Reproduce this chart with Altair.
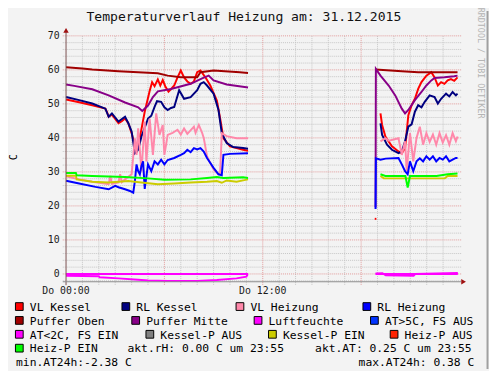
import altair as alt
import pandas as pd

# ---------------- data (hours since 00:00 on 31.12.2015, values in C) ----------------
TITLE = "Temperaturverlauf Heizung am: 31.12.2015"
SERIES = ["VL Kessel", "RL Kessel", "VL Heizung", "RL Heizung",
          "Puffer Oben", "Puffer Mitte", "Luftfeuchte", "AT>5C, FS AUS",
          "AT<2C, FS EIN", "Kessel-P AUS", "Kessel-P EIN", "Heiz-P AUS",
          "Heiz-P EIN"]
COLORS = ["#ff0000", "#000080", "#ff88aa", "#0000ff",
          "#a00000", "#880088", "#ff00ff", "#0033ff",
          "#ff00ff", "#808080", "#cccc00", "#ff2200",
          "#00ff00"]

VL_KESSEL_0 = [(18.83, 16.2), (18.93, 16.2)]
VL_KESSEL_1 = [(0, 51.3), (0.8, 50.5), (1.6, 49.6), (2.4, 48.6), (2.5, 47.6), (2.6, 46.2), (2.8, 46.8),
               (3.2, 44.3), (3.4, 44.9), (3.6, 45.7), (3.8, 44.3), (4.0, 41.4), (4.3, 35.7), (4.5, 40.0),
               (4.8, 47.7), (5.1, 53.8), (5.25, 56.4), (5.4, 55.2), (5.6, 57.2), (5.75, 55.4), (5.9, 57.0),
               (6.05, 55.2), (6.25, 53.6), (6.45, 54.6), (6.6, 55.4), (6.8, 57.8), (7.0, 59.8), (7.2, 57.8),
               (7.4, 56.6), (7.6, 55.9), (7.8, 56.6), (8.0, 59.3), (8.2, 59.8), (8.5, 57.8), (8.8, 55.4),
               (9.2, 51.0), (9.4, 45.7), (9.6, 39.9), (10.0, 37.5), (10.4, 37.0), (10.8, 36.5), (11.1, 36.2)]
VL_KESSEL_2 = [(19.18, 47.2), (19.28, 43.8), (19.48, 40.4), (19.88, 37.5), (20.28, 36.0), (20.48, 35.5),
               (20.68, 37.0), (20.88, 46.7), (21.08, 49.6), (21.28, 51.5), (21.48, 54.4), (21.68, 56.4),
               (21.98, 58.3), (22.28, 59.3), (22.48, 57.8), (22.68, 55.4), (22.88, 56.4), (23.08, 55.9),
               (23.28, 56.9), (23.48, 57.3), (23.68, 56.8), (23.88, 57.8)]

RL_KESSEL_1 = [(0, 52.0), (0.8, 51.1), (1.6, 50.1), (2.4, 48.6), (2.6, 46.2), (2.8, 47.2), (3.2, 44.8),
               (3.6, 46.2), (3.8, 44.3), (4.0, 41.9), (4.2, 35.5), (4.4, 36.5), (4.6, 40.4), (4.9, 44.3),
               (5.0, 45.7), (5.2, 46.5), (5.4, 49.1), (5.55, 50.8), (5.8, 50.6), (6.0, 49.0), (6.2, 48.2),
               (6.4, 48.8), (6.6, 49.1), (6.9, 54.0), (7.2, 51.5), (7.6, 52.0), (8.0, 54.0), (8.2, 55.9),
               (8.4, 56.4), (8.6, 55.4), (9.0, 53.0), (9.3, 48.2), (9.5, 41.4), (9.8, 38.5), (10.2, 37.3),
               (10.8, 37.0), (11.1, 36.8)]
RL_KESSEL_2 = [(19.18, 44.3), (19.28, 40.9), (19.58, 38.0), (19.88, 36.5), (20.28, 35.5), (20.48, 36.0),
               (20.68, 39.0), (20.88, 43.3), (21.08, 44.0), (21.28, 47.7), (21.48, 49.6), (21.68, 49.0),
               (21.88, 50.6), (22.18, 52.5), (22.48, 52.0), (22.68, 50.1), (22.88, 51.5), (23.18, 53.0),
               (23.38, 52.2), (23.58, 53.5), (23.78, 52.5), (23.88, 53.0)]

VL_HEIZUNG_1 = [(0, 28.7), (0.8, 27.8), (1.6, 27.1), (2.6, 26.4), (2.7, 28.8), (2.8, 26.5), (3.2, 26.9),
                (3.3, 29.3), (3.4, 27.0), (3.6, 27.8), (4.0, 29.3), (4.2, 39.9), (4.3, 35.0), (4.4, 42.8),
                (4.6, 30.2), (4.8, 44.8), (4.9, 33.1), (5.1, 45.7), (5.3, 35.0), (5.5, 47.2), (5.7, 40.9),
                (5.9, 43.8), (6.0, 35.0), (6.2, 40.9), (6.5, 41.5), (6.8, 42.4), (7.0, 41.0), (7.2, 42.8),
                (7.4, 41.2), (7.8, 43.3), (7.9, 41.5), (8.1, 43.8), (8.3, 41.5), (8.4, 40.0), (8.6, 34.6),
                (8.8, 32.6), (9.0, 30.7), (9.3, 29.3), (9.4, 29.7), (9.5, 41.4), (9.8, 40.5), (10.4, 39.9),
                (11.1, 39.9)]
VL_HEIZUNG_2 = [(19.18, 39.0), (19.48, 39.9), (19.7, 39.2), (20.28, 39.9), (20.48, 35.0), (20.68, 39.0),
                (20.78, 30.2), (20.98, 41.4), (21.18, 33.1), (21.38, 40.0), (21.58, 43.3), (21.78, 38.0),
                (21.98, 41.4), (22.18, 38.8), (22.38, 41.0), (22.58, 38.0), (22.78, 41.4), (22.98, 38.6),
                (23.18, 40.8), (23.38, 38.0), (23.58, 41.4), (23.78, 39.0), (23.88, 40.4)]

RL_HEIZUNG_1 = [(0, 27.4), (0.8, 26.6), (1.8, 25.6), (2.6, 24.9), (3.0, 25.9), (3.2, 25.5), (3.6, 24.9),
                (3.9, 24.4), (4.1, 23.9), (4.2, 27.3), (4.3, 32.2), (4.4, 30.2), (4.5, 29.3), (4.6, 31.7),
                (4.7, 33.1), (4.8, 25.0), (5.0, 32.2), (5.2, 30.2), (5.4, 33.1), (5.6, 32.2), (5.8, 33.6),
                (6.0, 32.2), (6.2, 33.5), (6.6, 34.1), (7.0, 35.0), (7.2, 35.5), (7.4, 36.5), (7.6, 35.8),
                (7.8, 37.0), (8.0, 36.6), (8.2, 37.0), (8.4, 36.0), (8.6, 34.1), (9.0, 31.2), (9.3, 29.3),
                (9.5, 29.0), (9.6, 35.0), (10.0, 35.3), (11.1, 35.5)]
RL_HEIZUNG_2 = [(18.88, 19.1), (18.9, 34.0), (19.18, 33.6), (19.5, 33.9), (20.28, 34.1), (20.48, 32.2),
                (20.68, 30.2), (20.84, 29.3), (20.98, 33.1), (21.18, 30.2), (21.38, 33.1), (21.58, 34.0),
                (21.78, 33.1), (21.98, 34.6), (22.18, 33.6), (22.38, 34.6), (22.58, 33.1), (22.78, 34.1),
                (22.98, 33.6), (23.18, 34.6), (23.38, 33.1), (23.58, 33.6), (23.78, 34.1), (23.88, 34.1)]

PUFFER_OBEN_1 = [(0, 60.8), (1.0, 60.4), (1.6, 60.1), (3.2, 59.6), (4.4, 59.3), (5.6, 59.0), (6.2, 58.3),
                 (7.0, 57.8), (8.0, 57.8), (8.2, 59.3), (9.0, 59.8), (10.6, 59.3), (11.1, 59.1)]
PUFFER_OBEN_2 = [(18.88, 60.1), (20.48, 59.6), (21.48, 59.3), (23.88, 59.3)]

PUFFER_MITTE_1 = [(0, 55.7), (0.5, 55.3), (1.6, 54.3), (2.6, 52.5), (3.6, 50.4), (4.4, 49.0), (4.65, 47.9),
                  (5.0, 49.5), (5.3, 52.0), (5.6, 53.7), (6.4, 54.4), (7.6, 55.9), (8.3, 57.5), (8.7, 58.3),
                  (9.0, 56.9), (9.8, 55.7), (11.0, 54.9), (11.1, 54.8)]
PUFFER_MITTE_2 = [(18.88, 19.6), (18.9, 60.3), (19.18, 58.3), (19.68, 55.4), (20.08, 52.5), (20.48, 48.6),
                  (20.68, 47.2), (20.88, 48.2), (21.28, 51.1), (21.68, 53.5), (21.98, 55.4), (22.28, 56.9),
                  (22.48, 57.6), (23.08, 57.8), (23.68, 58.1), (23.88, 58.3)]

LUFTFEUCHTE_1 = [(0, 0.0), (11.1, 0.0)]
LUFTFEUCHTE_2 = [(18.88, 0.0), (23.9, 0.0)]

AT_1 = [(0, -0.5), (2.0, -0.7), (2.05, -1.0), (3.2, -1.3), (4.4, -1.7), (5.0, -1.9), (6.2, -2.1),
        (8.0, -2.1), (9.2, -1.8), (10.4, -1.3), (11.0, -0.8), (11.08, -0.1)]
AT_2 = [(18.88, 0.1), (19.3, 0.2), (19.5, -0.4), (21.2, -0.5), (21.3, 0.0), (23.9, 0.25)]

KESSEL_P_EIN_1 = [(0, 28.9), (0.6, 28.9), (0.65, 27.8), (1.6, 27.1), (2.6, 26.9), (3.8, 27.3), (4.6, 26.9),
                  (5.6, 26.4), (6.6, 26.6), (7.6, 26.9), (8.6, 27.1), (9.2, 27.3), (9.5, 26.8), (9.8, 27.5),
                  (10.4, 27.1), (10.8, 27.5), (11.1, 27.8)]
KESSEL_P_EIN_2 = [(19.18, 28.8), (19.38, 28.1), (23.1, 28.1), (23.28, 28.8), (23.88, 28.8)]

HEIZ_P_EIN_1 = [(0, 29.7), (0.6, 29.7), (0.65, 29.0), (1.6, 28.8), (3.6, 28.5), (5.0, 28.1), (6.0, 27.7),
                (7.6, 27.8), (8.6, 28.2), (9.2, 28.5), (9.6, 28.2), (10.8, 28.4), (11.1, 28.2)]
HEIZ_P_EIN_2 = [(19.18, 29.3), (19.48, 28.8), (20.7, 28.8), (20.84, 25.4), (20.98, 28.8), (22.6, 28.8),
                (23.28, 29.3), (23.88, 29.5)]

Y_TICKS = [0, 10, 20, 30, 40, 50, 60, 70]
X_TICKS = [0, 12]
X_LABELS = ["Do 00:00", "Do 12:00"]
STATS = ["akt.rH: 0.00 C um 23:55", "akt.AT: 0.25 C um 23:55",
         "min.AT24h:-2.38 C", "max.AT24h: 0.38 C"]
WATERMARK = "RRDTOOL / TOBI OETIKER"
Y_TITLE = "C"

# ---------------- layout / style ----------------
MONO = "DejaVu Sans Mono"
X0, Y0 = 67, 33.3          # plot origin in page pixels
PLOT_W, PLOT_H = 400, 250
CHART_W, CHART_H = 489, 363
Y_MIN, Y_MAX = -2.3, 70


def px(xr):
    return xr - X0


def py(yr):
    return yr - Y0


xscale = alt.Scale(domain=[0, 24], nice=False, zero=False)
yscale = alt.Scale(domain=[Y_MIN, Y_MAX], nice=False, zero=False)

LINES = [
    ("VL Kessel", [VL_KESSEL_0, VL_KESSEL_1, VL_KESSEL_2]),
    ("RL Kessel", [RL_KESSEL_1, RL_KESSEL_2]),
    ("VL Heizung", [VL_HEIZUNG_1, VL_HEIZUNG_2]),
    ("Puffer Oben", [PUFFER_OBEN_1, PUFFER_OBEN_2]),
    ("Puffer Mitte", [PUFFER_MITTE_1, PUFFER_MITTE_2]),
    ("RL Heizung", [RL_HEIZUNG_1, RL_HEIZUNG_2]),
    ("Luftfeuchte", [LUFTFEUCHTE_1, LUFTFEUCHTE_2]),
    ("AT<2C, FS EIN", [AT_1, AT_2]),
    ("Kessel-P EIN", [KESSEL_P_EIN_1, KESSEL_P_EIN_2]),
    ("Heiz-P EIN", [HEIZ_P_EIN_1, HEIZ_P_EIN_2]),
]
color_of = dict(zip(SERIES, COLORS))

layers = []


def rule_layer(x0, x1, y0, y1, color, dash=None, width=1):
    df = pd.DataFrame({"xa": x0, "xb": x1, "ya": y0, "yb": y1})
    kw = dict(color=color, strokeWidth=width)
    if dash:
        kw["strokeDash"] = dash
    return alt.Chart(df).mark_rule(**kw).encode(
        x=alt.X("xa:Q", scale=xscale, axis=None), x2="xb:Q",
        y=alt.Y("ya:Q", scale=yscale, axis=None), y2="yb:Q")


# grid
minor_y = [float(v) for v in range(-2, 70, 2) if v % 10 != 0]
major_y = [float(v) for v in Y_TICKS]
minor_x = [float(h) for h in range(1, 24) if h % 6 != 0]
major_x = [6.0, 12.0, 18.0]
GRID_MINOR = "#c6c6c6"
GRID_MAJOR = "#e29a9a"

layers.append(rule_layer([-0.2] * len(minor_y), [24.1] * len(minor_y), minor_y, minor_y, GRID_MINOR, [1, 1]))
layers.append(rule_layer(minor_x, minor_x, [-3.2] * len(minor_x), [Y_MAX] * len(minor_x), GRID_MINOR, [1, 1]))
layers.append(rule_layer([-0.2] * len(major_y), [24.1] * len(major_y), major_y, major_y, GRID_MAJOR, [1, 1]))
layers.append(rule_layer(major_x, major_x, [-3.2] * len(major_x), [Y_MAX] * len(major_x), GRID_MAJOR, [1, 1]))

# series lines
for name, segs in LINES:
    rows = []
    for i, seg in enumerate(segs):
        for t, v in seg:
            rows.append({"t": t, "v": v, "seg": i})
    df = pd.DataFrame(rows)
    layers.append(alt.Chart(df).mark_line(color=color_of[name], strokeWidth=2).encode(
        x=alt.X("t:Q", scale=xscale, axis=None),
        y=alt.Y("v:Q", scale=yscale, axis=None),
        detail="seg:N"))

# axis lines and arrows
AXC = "#7a5050"
layers.append(rule_layer([0.0], [0.0], [-3.3], [71.2], AXC))
layers.append(rule_layer([-0.2], [24.1], [Y_MIN], [Y_MIN], "#8c8c8c"))
layers.append(alt.Chart(pd.DataFrame({"xa": [0.0], "ya": [71.6]})).mark_point(
    shape="triangle-up", filled=True, size=30, color="#a01010", opacity=1).encode(
    x=alt.X("xa:Q", scale=xscale, axis=None), y=alt.Y("ya:Q", scale=yscale, axis=None)))
layers.append(alt.Chart(pd.DataFrame({"xa": [24.25], "ya": [Y_MIN]})).mark_point(
    shape="triangle-right", filled=True, size=30, color="#a01010", opacity=1).encode(
    x=alt.X("xa:Q", scale=xscale, axis=None), y=alt.Y("ya:Q", scale=yscale, axis=None)))

# tick labels (through the scales)
layers.append(alt.Chart(pd.DataFrame({"v": Y_TICKS, "lab": [str(v) for v in Y_TICKS]})).mark_text(
    align="right", baseline="middle", font=MONO, fontSize=10, color="#1a1a1a").encode(
    y=alt.Y("v:Q", scale=yscale, axis=None), x=alt.value(-6.5), text="lab:N"))
layers.append(alt.Chart(pd.DataFrame({"t": X_TICKS, "lab": X_LABELS})).mark_text(
    align="center", baseline="alphabetic", font=MONO, fontSize=10, color="#1a1a1a").encode(
    x=alt.X("t:Q", scale=xscale, axis=None), y=alt.value(py(295.5)), text="lab:N"))

dummy = pd.DataFrame({"d": [0]})


def text_layer(s, xr, yr, size, align="left", angle=0, color="#000000", baseline="alphabetic"):
    return alt.Chart(dummy).mark_text(text=s, align=align, baseline=baseline, angle=angle, font=MONO,
                                      fontSize=size, color=color).encode(
        x=alt.value(px(xr)), y=alt.value(py(yr)))


# title, y title, watermark
layers.append(text_layer(TITLE, 247.8, 18.3, 13.3, align="center", color="#111111"))
layers.append(text_layer(Y_TITLE, 14, 156.7, 10, align="center", angle=270, baseline="middle"))
layers.append(text_layer(WATERMARK, 488.5, 61, 8.5, align="center", angle=90, baseline="middle", color="#b4b4b4"))

# legend
LEG_X = [[15, 123.3, 239.3, 368.3], [15, 133.3, 257.7, 376], [15, 147.7, 272.3, 396], [15]]
ROW_BASE = [312.8, 326.9, 341.0, 355.1, 369.2]
k = 0
for r, xs in enumerate(LEG_X):
    for xq in xs:
        name = SERIES[k]
        k += 1
        layers.append(alt.Chart(dummy).mark_point(shape="square", filled=True, size=62, fill=color_of[name],
                                                  stroke="#000000", strokeWidth=1, opacity=1).encode(
            x=alt.value(px(xq + 4.5)), y=alt.value(py(ROW_BASE[r] - 4.3))))
        layers.append(text_layer(name, xq + 15.2, ROW_BASE[r], 11.5))
layers.append(text_layer(STATS[0], 129.5, ROW_BASE[3], 11.5))
layers.append(text_layer(STATS[1], 320.2, ROW_BASE[3], 11.5))
layers.append(text_layer(STATS[2], 16.2, ROW_BASE[4], 11.5))
layers.append(text_layer(STATS[3], 482.0, ROW_BASE[4], 11.5, align="right"))

# right frame shade
layers.append(alt.Chart(dummy).mark_rule(color="#a0a0a0", strokeWidth=2).encode(
    x=alt.value(px(495.5)), y=alt.value(py(8)), y2=alt.value(py(372))))

chart = alt.layer(*layers).properties(
    width=PLOT_W, height=PLOT_H,
    autosize=alt.AutoSizeParams(type="none"),
    padding={"left": X0 - 8, "top": Y0 - 8, "right": CHART_W - (X0 - 8) - PLOT_W,
             "bottom": CHART_H - (Y0 - 8) - PLOT_H},
).configure(background="#f3f3f3").configure_view(stroke=None)

chart.save("out.html", embed_options={"renderer": "svg", "actions": False})
